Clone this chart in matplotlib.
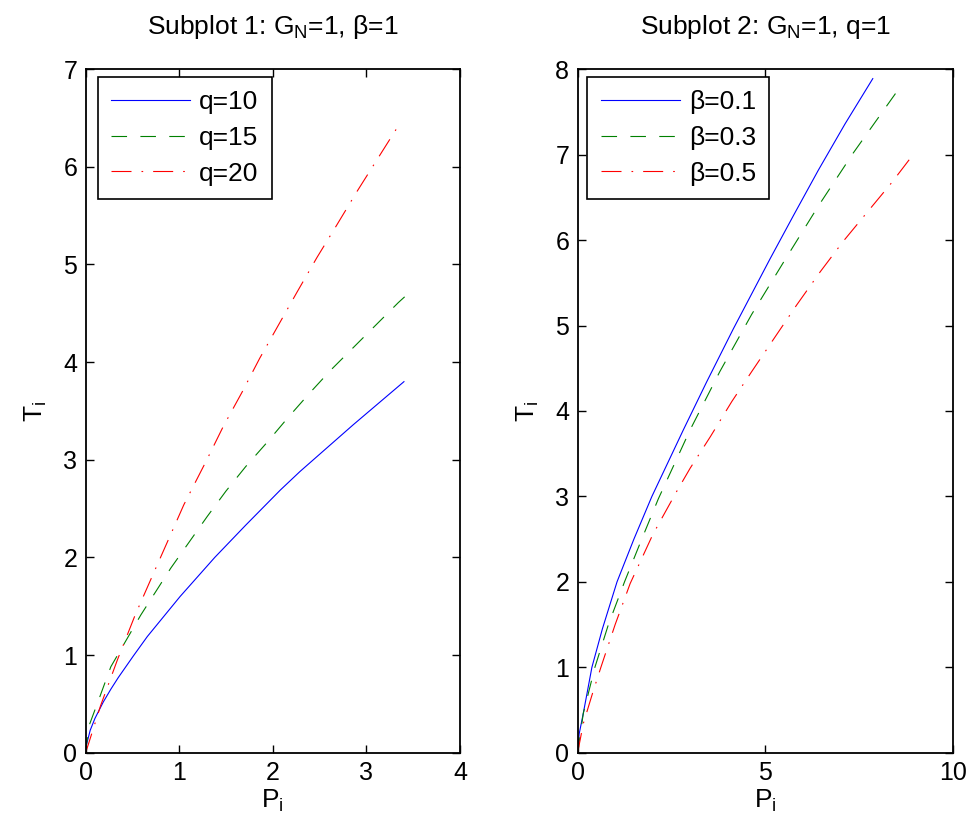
import matplotlib.pyplot as plt

plt.rcParams['font.family'] = ['Liberation Sans', 'DejaVu Sans']
plt.rcParams['mathtext.fontset'] = 'custom'
plt.rcParams['mathtext.rm'] = 'Liberation Sans'
plt.rcParams['mathtext.it'] = 'Liberation Sans'

# subplot 1: G_N=1, beta=1, varying q
p_q10 = [0, 0.01, 0.05, 0.10, 0.19, 0.27, 0.35, 0.51, 0.66, 1.01, 1.38, 1.71, 2.08, 2.29, 2.86, 3.40]
t_q10 = [0, 0.08, 0.23, 0.35, 0.52, 0.65, 0.77, 0.99, 1.19, 1.60, 2.00, 2.33, 2.69, 2.88, 3.36, 3.80]

p_q15 = [0, 0.035, 0.14, 0.27, 0.59, 0.91, 1.30, 1.40, 1.50, 1.71, 1.94, 2.16, 2.39, 2.62, 2.86, 3.10, 3.34, 3.46]
t_q15 = [0, 0.27, 0.54, 0.88, 1.41, 1.89, 2.42, 2.55, 2.68, 2.93, 3.18, 3.43, 3.68, 3.92, 4.15, 4.38, 4.61, 4.715]

p_q20 = [0, 0.025, 0.16, 0.34, 0.53, 0.75, 1.05, 1.29, 1.47, 1.67, 1.86, 2.06, 2.26, 2.47, 2.68, 2.90, 3.11, 3.34]
t_q20 = [0, 0.07, 0.48, 0.95, 1.41, 1.89, 2.54, 2.99, 3.34, 3.69, 4.04, 4.38, 4.72, 5.07, 5.40, 5.75, 6.07, 6.42]

# subplot 2: G_N=1, q=1, varying beta
p_b01 = [0, 0.04, 0.15, 0.38, 0.66, 1.05, 1.50, 1.98, 2.82, 3.44, 4.15, 5.13, 5.77, 6.42, 7.13, 7.87]
t_b01 = [0, 0.22, 0.46, 1.00, 1.45, 2.00, 2.50, 3.00, 3.78, 4.34, 4.96, 5.78, 6.30, 6.82, 7.36, 7.89]

p_b03 = [0, 0.15, 0.46, 0.82, 1.25, 1.70, 2.15, 3.00, 3.79, 4.64, 5.53, 6.42, 7.35, 8.58]
t_b03 = [0, 0.46, 1.00, 1.50, 2.00, 2.49, 2.97, 3.78, 4.46, 5.13, 5.77, 6.40, 7.02, 7.78]

p_b05 = [0, 0.15, 0.40, 0.62, 1.00, 1.40, 2.00, 2.63, 3.00, 3.54, 4.11, 4.64, 5.27, 5.84, 6.47, 7.09, 7.71, 8.37, 8.84]
t_b05 = [0, 0.34, 0.70, 1.00, 1.50, 1.98, 2.55, 3.05, 3.33, 3.70, 4.11, 4.46, 4.87, 5.24, 5.63, 5.99, 6.32, 6.67, 6.94]

green = (0, 0.5, 0)
dash = (14, 12)
dashdot = (18, 9, 1.5, 9)

fig = plt.figure(figsize=(9.72, 8.34), dpi=100)
ax1 = fig.add_axes([0.0880, 0.0975, 0.3854, 0.8195])
ax2 = fig.add_axes([0.5943, 0.0975, 0.3858, 0.8195])

ax1.plot(p_q10, t_q10, '-', color='b', lw=0.8, label='q=10')
ax1.plot(p_q15, t_q15, '--', color=green, lw=0.8, dashes=dash, label='q=15')
ax1.plot(p_q20, t_q20, '-.', color='r', lw=0.8, dashes=dashdot, label='q=20')
ax1.set_xlim(0, 4)
ax1.set_ylim(0, 7)
ax1.set_xticks([0, 1, 2, 3, 4])
ax1.set_yticks(range(8))
ax1.set_title('Subplot 1: G$_\\mathrm{N}$=1, β=1', fontsize=19, pad=25)

ax2.plot(p_b01, t_b01, '-', color='b', lw=0.8, label='β=0.1')
ax2.plot(p_b03, t_b03, '--', color=green, lw=0.8, dashes=dash, label='β=0.3')
ax2.plot(p_b05, t_b05, '-.', color='r', lw=0.8, dashes=dashdot, label='β=0.5')
ax2.set_xlim(0, 10)
ax2.set_ylim(0, 8)
ax2.set_xticks([0, 5, 10])
ax2.set_yticks(range(9))
ax2.set_title('Subplot 2: G$_\\mathrm{N}$=1, q=1', fontsize=19, pad=25)

for ax, anchor in ((ax1, (0.032, 0.989)), (ax2, (0.026, 0.989))):
    ax.set_xlabel('P$_\\mathrm{i}$', fontsize=19, labelpad=2)
    ax.set_ylabel('T$_\\mathrm{i}$', fontsize=19, labelpad=10)
    ax.tick_params(direction='in', top=True, right=True, length=6, width=1,
                   labelsize=18, pad=6)
    for s in ax.spines.values():
        s.set_linewidth(1.3)
    leg = ax.legend(loc='upper left', bbox_to_anchor=anchor, borderaxespad=0,
                    fontsize=19, fancybox=False, framealpha=1, edgecolor='k',
                    handlelength=3.0, borderpad=0.5, labelspacing=0.45,
                    handletextpad=0.35)
    leg.get_frame().set_linewidth(1.2)

fig.savefig('out.png', dpi=100)
